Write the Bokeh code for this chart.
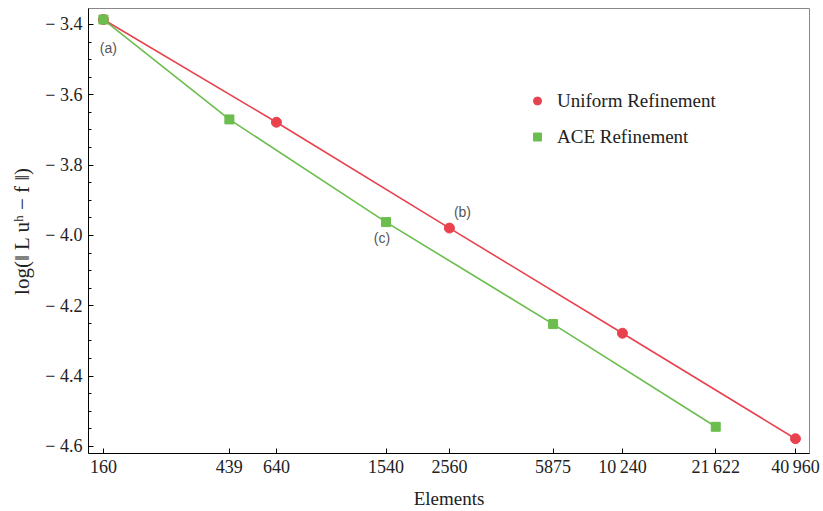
from bokeh.plotting import figure
from bokeh.models import Range1d, FixedTicker, Legend, LegendItem, ColumnDataSource, CustomJSTickFormatter
from bokeh.core.properties import value
from bokeh.embed import file_html
from bokeh.resources import INLINE
import numpy as np

# Data
uniform_elements = [160, 640, 2560, 10240, 40960]
uniform_error = [-3.386, -3.678, -3.979, -4.278, -4.578]
ace_elements = [160, 439, 1540, 5875, 21622]
ace_error = [-3.386, -3.670, -3.962, -4.252, -4.544]

x_ticks = [160, 439, 640, 1540, 2560, 5875, 10240, 21622, 40960]
x_tick_labels = ["160", "439", "640", "1540", "2560", "5875",
                 "10\u2009240", "21\u2009622", "40\u2009960"]
y_ticks = [-4.6, -4.4, -4.2, -4.0, -3.8, -3.6, -3.4]
y_tick_labels = ["\u2212 4.6", "\u2212 4.4", "\u2212 4.2", "\u2212 4.0",
                 "\u2212 3.8", "\u2212 3.6", "\u2212 3.4"]

annot_labels = ["(a)", "(b)", "(c)"]
annot_x = [uniform_elements[0], uniform_elements[2], ace_elements[2]]
annot_y = [uniform_error[0], uniform_error[2], ace_error[2]]

RED = "#E8424E"
GREEN = "#6BBE4E"
SERIF = "Liberation Serif"

p = figure(width=823, height=511, x_axis_type="log",
           x_range=Range1d(142, 45830), y_range=Range1d(-4.62, -3.3546),
           output_backend="svg", toolbar_location=None,
           min_border_left=88, min_border_right=14, min_border_top=8, min_border_bottom=57)
p.grid.visible = False
p.outline_line_color = "#888888"
p.outline_line_width = 1
p.background_fill_color = "white"
p.border_fill_color = "white"

# lines
p.line(uniform_elements, uniform_error, line_color=RED, line_width=1.6)
p.line(ace_elements, ace_error, line_color=GREEN, line_width=1.6)
r_u = p.scatter(uniform_elements, uniform_error, marker="circle", size=10,
                fill_color=RED, line_color=RED)
r_a = p.scatter(ace_elements, ace_error, marker="square", size=9,
                fill_color=GREEN, line_color=GREEN)

# annotations
src = ColumnDataSource(dict(x=annot_x, y=annot_y, t=annot_labels,
                            xo=[5, 13, -4], yo=[28, -16, 16]))
p.text(x="x", y="y", text="t", x_offset="xo", y_offset="yo", source=src,
       text_font=value("Liberation Sans"), text_font_size="14px",
       text_color="#555555", text_align="center", text_baseline="middle")

# axes
xa = p.xaxis[0]
xa.ticker = FixedTicker(ticks=x_ticks)
xa.major_label_overrides = {t: l for t, l in zip(x_ticks, x_tick_labels)}
xa.major_tick_in = 5
xa.major_tick_out = 0
xa.minor_tick_line_color = None
xa.major_label_text_font = SERIF
xa.major_label_text_font_size = "18px"
xa.major_label_text_color = "#222222"
xa.major_label_standoff = 3
xa.axis_label = "Elements"
xa.axis_label_text_font = SERIF
xa.axis_label_text_font_style = "normal"
xa.axis_label_text_font_size = "19px"
xa.axis_label_text_color = "#222222"
xa.axis_label_standoff = 8
xa.axis_line_color = "black"

ya = p.yaxis[0]
minor = [round(v, 2) for v in np.arange(-4.60, -3.35, 0.05)]
ya.ticker = FixedTicker(ticks=y_ticks, minor_ticks=minor)
ya.formatter = CustomJSTickFormatter(args=dict(vals=y_ticks, labs=y_tick_labels), code="""
    let best = 0;
    for (let i = 0; i < vals.length; i++) {
        if (Math.abs(vals[i] - tick) < Math.abs(vals[best] - tick)) best = i;
    }
    return labs[best];
""")
ya.major_tick_in = 5
ya.major_tick_out = 0
ya.minor_tick_in = 3
ya.minor_tick_out = 0
ya.major_label_text_font = SERIF
ya.major_label_text_font_size = "18px"
ya.major_label_text_color = "#222222"
ya.major_label_standoff = 6
ya.axis_label = "log(\u2016 L u\u02b0 \u2212 f \u2016)"
ya.axis_label_text_font = SERIF
ya.axis_label_text_font_style = "normal"
ya.axis_label_text_font_size = "21px"
ya.axis_label_text_color = "#222222"
ya.axis_label_standoff = 8
ya.axis_line_color = "black"

legend = Legend(items=[LegendItem(label="Uniform Refinement", renderers=[r_u]),
                       LegendItem(label="ACE Refinement", renderers=[r_a])],
                location=(439, 300), orientation="vertical",
                glyph_width=20, glyph_height=33, label_height=33, spacing=3,
                label_standoff=10, padding=0, margin=0,
                border_line_color=None, background_fill_alpha=0,
                label_text_font=SERIF, label_text_font_size="19px",
                label_text_color="#222222")
p.add_layout(legend)

open("out.html", "w").write(file_html(p, INLINE))
